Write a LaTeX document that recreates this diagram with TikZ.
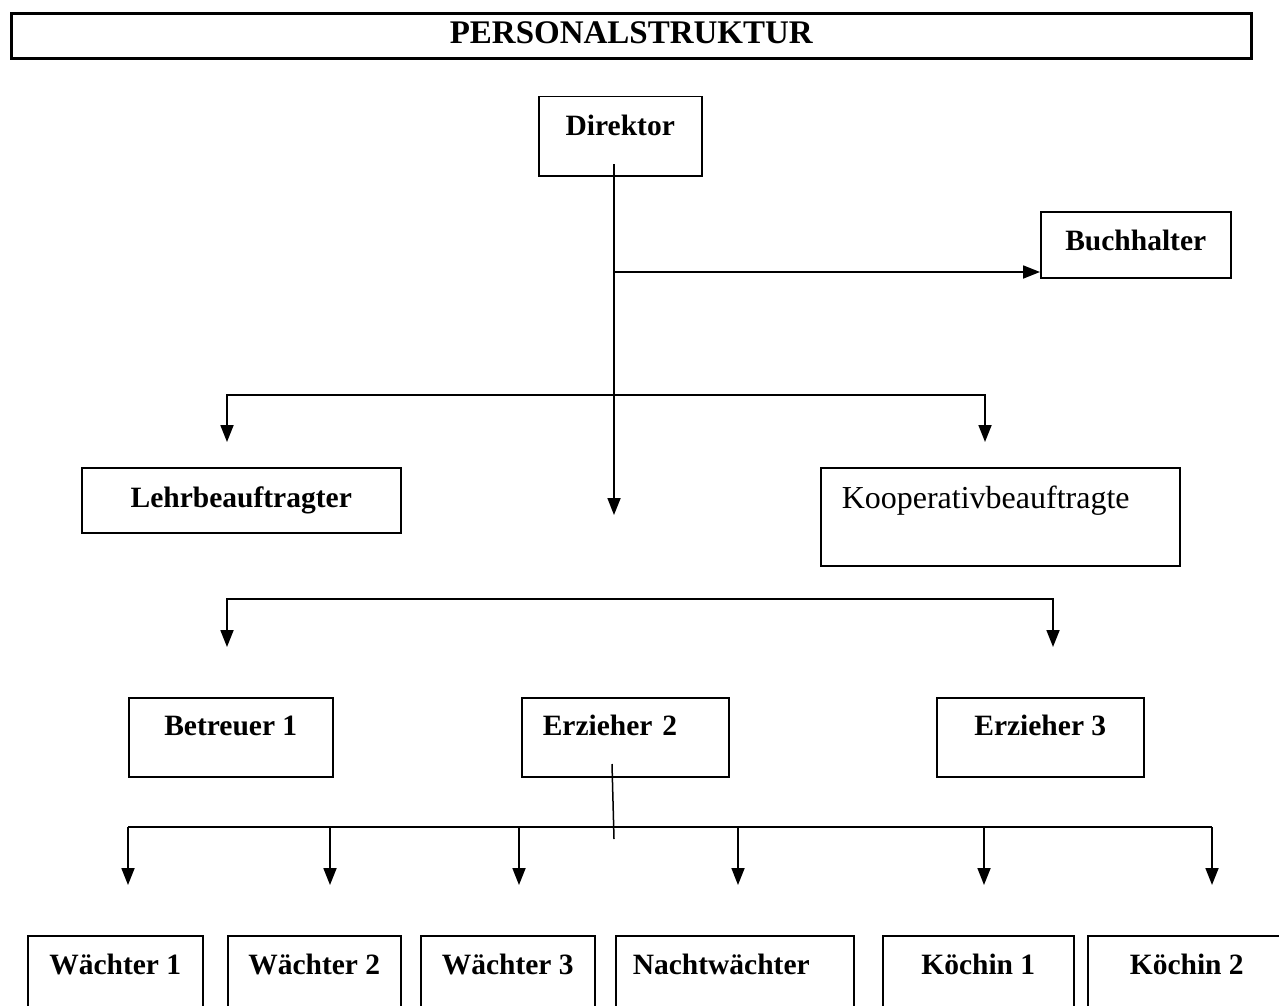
\documentclass[tikz,border=0pt]{standalone}
\usepackage{fontspec}
\setmainfont{Liberation Serif}
\usepackage{tikz}
\usetikzlibrary{arrows.meta}

\begin{document}
\begin{tikzpicture}[x=1pt, y=-1pt,
    post/.style = {draw, line width=1.5pt, anchor=north west, inner sep=0pt, font=\fontsize{29.5}{34}\selectfont\bfseries, text height=39pt, text depth=40pt},
    lpost/.style = {post, align=left, inner xsep=21pt, text width=#1},
    staff/.style = {post, text depth=61pt},
    link/.style = {line width=1.8pt},
    arr/.style = {link, -{Triangle[length=17pt, width=13pt]}},
    fork/.style = {link, {Triangle[length=17pt, width=13pt]}-{Triangle[length=17pt, width=13pt]}}]
    \useasboundingbox (0,0) rectangle (1279,1006);

    \node[post, line width=2.6pt, minimum width=1240pt, text height=30pt, text depth=15pt, font=\fontsize{33}{38}\selectfont\bfseries] (title) at (10,12) {PERSONALSTRUKTUR};

    \node[post, minimum width=163pt] (dir) at (538,96) {Direktor};
    \node[post, minimum width=190pt, text depth=27pt] (buch) at (1040,211) {Buchhalter};
    \node[post, minimum width=319pt, text height=40pt, text depth=25pt] (lehr) at (81,467) {Lehrbeauftragter};
    \node[lpost=317pt, text height=41pt, text depth=57pt, font=\fontsize{32}{36}\selectfont] (koop) at (820,467) {Kooperativbeauftragte};

    \node[post, minimum width=204pt, text height=38pt, text depth=41pt] (betr) at (128,697) {Betreuer 1};
    \node[lpost=165pt, text height=38pt, text depth=41pt] (erz2) at (521,697) {Erzieher 2};
    \node[post, minimum width=207pt, text height=38pt, text depth=41pt] (erz3) at (936,697) {Erzieher 3};

    \node[staff, minimum width=175pt] (w1) at (27,935) {Wächter 1};
    \node[staff, minimum width=173pt] (w2) at (227,935) {Wächter 2};
    \node[staff, minimum width=174pt] (w3) at (420,935) {Wächter 3};
    \node[lpost=204pt, inner xsep=17pt, text depth=61pt] (nacht) at (615,935) {Nachtwächter};
    \node[staff, minimum width=191pt] (k1) at (882,935) {Köchin 1};
    \node[staff, minimum width=198pt] (k2) at (1087,935) {Köchin 2};

    \coordinate (dirTop) at (614,164);
    \coordinate (dirEnd) at (614,515);
    \coordinate (buchRow) at (614,272);
    \coordinate (lehrTip) at (227,442);
    \coordinate (koopTip) at (985,442);
    \coordinate (betrTip) at (227,647);
    \coordinate (erz3Tip) at (1053,647);
    \coordinate (erzTop) at (612,764);
    \coordinate (erzEnd) at (614,839);
    \coordinate (staffBar) at (614,827);
    \coordinate (w1Tip) at (128,885);
    \coordinate (w2Tip) at (330,885);
    \coordinate (w3Tip) at (519,885);
    \coordinate (nachtTip) at (738,885);
    \coordinate (k1Tip) at (984,885);
    \coordinate (k2Tip) at (1212,885);

    \draw[arr] (dirTop) -- (dirEnd);
    \draw[arr] (buchRow) -- (buchRow -| buch.west);
    \draw[fork] (lehrTip) -- ++(0,-47) -| (koopTip);
    \draw[fork] (betrTip) -- ++(0,-48) -| (erz3Tip);

    \draw[line width=1.5pt] (erzTop) -- (erzEnd);
    \draw[link] (w1Tip |- staffBar) -- (k2Tip |- staffBar);
    \draw[arr] (w1Tip |- staffBar) -- (w1Tip);
    \draw[arr] (w2Tip |- staffBar) -- (w2Tip);
    \draw[arr] (w3Tip |- staffBar) -- (w3Tip);
    \draw[arr] (nachtTip |- staffBar) -- (nachtTip);
    \draw[arr] (k1Tip |- staffBar) -- (k1Tip);
    \draw[arr] (k2Tip |- staffBar) -- (k2Tip);
\end{tikzpicture}
\end{document}
